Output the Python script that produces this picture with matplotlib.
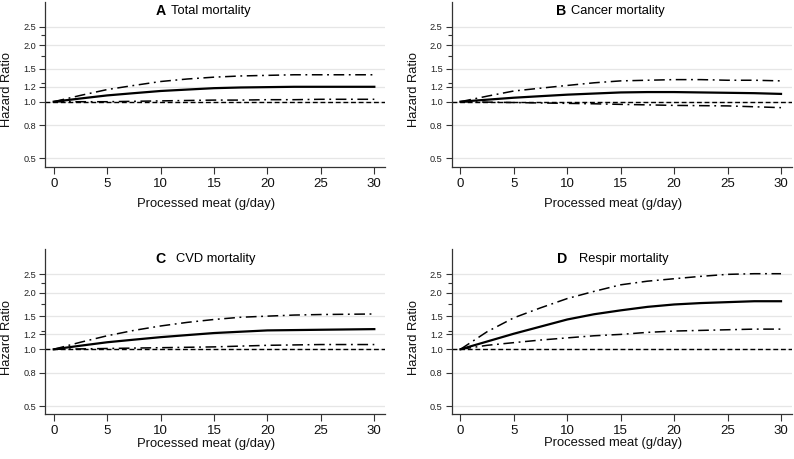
import numpy as np
import matplotlib
matplotlib.use("Agg")
import matplotlib.pyplot as plt
from matplotlib.ticker import FixedLocator, FixedFormatter, NullFormatter

plt.rcParams['font.family'] = ['Liberation Sans', 'DejaVu Sans']

# ---------------- data ----------------
dose = [0, 2.5, 5, 7.5, 10, 12.5, 15, 17.5, 20, 22.5, 25, 27.5, 30]

panel_letters = ["A", "B", "C", "D"]
panel_titles = ["Total mortality", "Cancer mortality", "CVD mortality", "Respir mortality"]

hr_total = [1.0, 1.04, 1.08, 1.11, 1.14, 1.16, 1.18, 1.19, 1.195, 1.20, 1.20, 1.20, 1.20]
up_total = [1.0, 1.08, 1.16, 1.22, 1.28, 1.32, 1.35, 1.37, 1.38, 1.39, 1.39, 1.39, 1.39]
lo_total = [1.0, 1.0, 1.0, 1.005, 1.01, 1.015, 1.02, 1.02, 1.025, 1.025, 1.03, 1.03, 1.03]

hr_cancer = [1.0, 1.025, 1.05, 1.07, 1.09, 1.105, 1.12, 1.125, 1.125, 1.12, 1.115, 1.11, 1.10]
up_cancer = [1.0, 1.07, 1.14, 1.18, 1.22, 1.26, 1.29, 1.30, 1.31, 1.31, 1.30, 1.30, 1.29]
lo_cancer = [1.0, 0.995, 0.99, 0.985, 0.98, 0.975, 0.968, 0.962, 0.956, 0.953, 0.95, 0.94, 0.93]

hr_cvd = [1.0, 1.045, 1.09, 1.125, 1.16, 1.19, 1.22, 1.24, 1.26, 1.265, 1.27, 1.275, 1.28]
up_cvd = [1.0, 1.09, 1.18, 1.26, 1.33, 1.39, 1.44, 1.48, 1.50, 1.52, 1.53, 1.535, 1.54]
lo_cvd = [1.0, 1.005, 1.01, 1.015, 1.02, 1.025, 1.03, 1.04, 1.05, 1.055, 1.06, 1.06, 1.06]

hr_resp = [1.0, 1.10, 1.21, 1.32, 1.44, 1.535, 1.61, 1.68, 1.73, 1.76, 1.78, 1.80, 1.80]
up_resp = [1.0, 1.24, 1.47, 1.66, 1.86, 2.03, 2.20, 2.30, 2.37, 2.44, 2.50, 2.52, 2.52]
lo_resp = [1.0, 1.05, 1.085, 1.12, 1.15, 1.18, 1.20, 1.23, 1.25, 1.26, 1.27, 1.28, 1.28]

hr_series = [hr_total, hr_cancer, hr_cvd, hr_resp]
up_series = [up_total, up_cancer, up_cvd, up_resp]
lo_series = [lo_total, lo_cancer, lo_cvd, lo_resp]

ytick_values = [0.5, 0.75, 1.0, 1.2, 1.5, 2.0, 2.5]
ytick_labels = ["0.5", "0.8", "1.0", "1.2", "1.5", "2.0", "2.5"]
yminor_values = [1.25, 1.75, 2.25]
xtick_values = [0, 5, 10, 15, 20, 25, 30]

# ---------------- layout ----------------
W, H = 794, 459
fig = plt.figure(figsize=(W / 100, H / 100), dpi=100)

ax_w = 340 / W
ax_h = 165 / H
lefts = [45 / W, 451.7 / W, 45 / W, 451.7 / W]
bottoms = [1 - 166.7 / H, 1 - 166.7 / H, 1 - 414.3 / H, 1 - 414.3 / H]
# title positions (px from left spine): letter left, text left
letter_px = [111, 104, 110, 105]
text_px = [126, 119, 131, 127]
# x-label top offset below the bottom spine (px)
xlabel_off = [31, 31.5, 24, 22.5]

dashdot = (0, (7, 3, 1.2, 3))

for i in range(4):
    ax = fig.add_axes([lefts[i], bottoms[i], ax_w, ax_h])
    ax.set_yscale('log')
    ax.set_ylim(0.4518, 3.396)
    ax.set_xlim(-0.814, 31.0)

    for v in ytick_values:
        ax.axhline(v, color='#e6e6e6', lw=0.9, zorder=0)
    ax.axhline(1.0, color='black', lw=1.0, ls=(0, (3.5, 2)), zorder=2)

    ax.plot(dose, up_series[i], color='black', lw=1.1, ls=dashdot, zorder=3)
    ax.plot(dose, lo_series[i], color='black', lw=1.1, ls=dashdot, zorder=3)
    ax.plot(dose, hr_series[i], color='black', lw=1.6, zorder=4)

    ax.yaxis.set_major_locator(FixedLocator(ytick_values))
    ax.yaxis.set_major_formatter(FixedFormatter(ytick_labels))
    ax.yaxis.set_minor_locator(FixedLocator(yminor_values))
    ax.yaxis.set_minor_formatter(NullFormatter())
    ax.set_xticks(xtick_values)
    ax.set_xticklabels([str(v) for v in xtick_values])

    ax.tick_params(axis='y', which='major', labelsize=6.6, length=4.5, width=0.8,
                   pad=2, colors='#333333', labelcolor='#222222')
    ax.tick_params(axis='y', which='minor', length=3, width=0.8, colors='#333333')
    ax.tick_params(axis='x', which='major', labelsize=9.5, length=5, width=0.8,
                   pad=3, colors='#333333', labelcolor='#111111')

    for s in ['top', 'right']:
        ax.spines[s].set_visible(False)
    for s in ['left', 'bottom']:
        ax.spines[s].set_linewidth(0.9)
        ax.spines[s].set_color('#333333')

    ax.set_ylabel("Hazard Ratio", fontsize=9.3, color='#111111')
    ax.yaxis.set_label_coords(-0.094, 0.468)
    ax.set_xlabel("Processed meat (g/day)", fontsize=9.4, color='#111111')
    ax.xaxis.set_label_coords(0.475, -xlabel_off[i] / 165)

    ty = 0.944
    ax.text(letter_px[i] / 340, ty, panel_letters[i], transform=ax.transAxes,
            fontsize=10.2, fontweight='bold', ha='left', va='center', color='black')
    ax.text(text_px[i] / 340, ty, panel_titles[i], transform=ax.transAxes,
            fontsize=9.3, ha='left', va='center', color='black')

fig.savefig("out.png", dpi=100)
